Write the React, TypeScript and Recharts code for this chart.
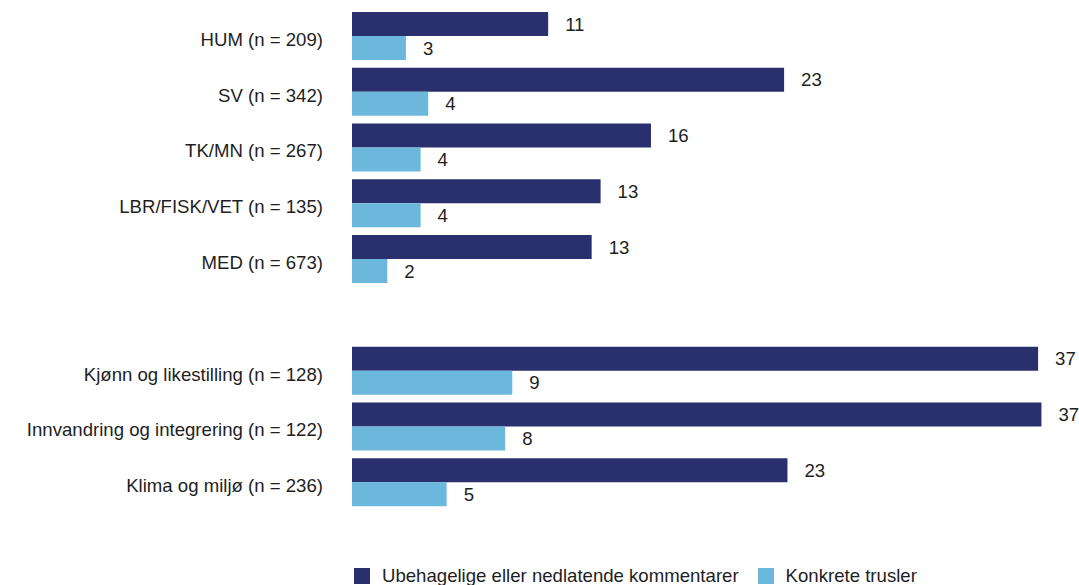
import { Bar, BarChart, LabelList, Legend, XAxis, YAxis } from "recharts";

const categories = [
  "HUM (n = 209)",
  "SV (n = 342)",
  "TK/MN (n = 267)",
  "LBR/FISK/VET (n = 135)",
  "MED (n = 673)",
  "",
  "Kjønn og likestilling (n = 128)",
  "Innvandring og integrering (n = 122)",
  "Klima og miljø (n = 236)",
];

const ubehagelige = [10.55, 23.24, 16.08, 13.37, 12.89, null, 36.9, 37.08, 23.42];
const trusler = [2.9, 4.1, 3.69, 3.69, 1.9, null, 8.62, 8.24, 5.09];

const seriesNames = ["Ubehagelige eller nedlatende kommentarer", "Konkrete trusler"];
const colors = ["#2a2f6e", "#6cb8dc"];

const data = categories.map((name, i) => ({
  name,
  ubehagelige: ubehagelige[i],
  trusler: trusler[i],
}));

const font = "'Liberation Sans', Arial, Helvetica, sans-serif";
const fontSize = 18.6;
const textColor = "#1e1e1e";

function CategoryTick(props: any) {
  const { x, y, payload } = props;
  return (
    <text x={x} y={y} dy={10} textAnchor="end" fill={textColor} fontSize={fontSize} fontFamily={font}>
      {payload.value}
    </text>
  );
}

function LegendContent() {
  return (
    <div
      style={{
        display: "flex",
        alignItems: "center",
        height: 20,
        paddingLeft: 354,
        fontSize,
        lineHeight: "20px",
        color: textColor,
        fontFamily: font,
      }}
    >
      {seriesNames.map((s, i) => (
        <div key={s} style={{ display: "flex", alignItems: "center", marginRight: 19 }}>
          <span style={{ display: "inline-block", width: 16, height: 16, background: colors[i], marginRight: 12 }} />
          <span>{s}</span>
        </div>
      ))}
    </div>
  );
}

export default function App() {
  return (
    <div style={{ position: "absolute", left: 0, top: 0, width: 1079, height: 585, background: "#fff", fontFamily: font }}>
      <BarChart
        width={1079}
        height={585}
        data={data}
        layout="vertical"
        margin={{ top: 8, right: 0, bottom: 55, left: 0 }}
        barSize={24}
        barGap={0}
      >
        <XAxis type="number" hide domain={[0, 39.1]} />
        <YAxis
          type="category"
          dataKey="name"
          width={352}
          axisLine={false}
          tickLine={false}
          tickSize={0}
          tickMargin={29}
          tick={<CategoryTick />}
          interval={0}
        />
        <Legend
          verticalAlign="bottom"
          align="left"
          height={20}
          content={<LegendContent />}
          wrapperStyle={{ left: 0, top: 566 }}
        />
        <Bar dataKey="ubehagelige" name={seriesNames[0]} fill={colors[0]} isAnimationActive={false}>
          <LabelList
            dataKey="ubehagelige"
            position="right"
            offset={17}
            fill={textColor}
            fontSize={fontSize}
            fontFamily={font}
            formatter={(v: any) => (v == null ? "" : Math.round(Number(v)))}
          />
        </Bar>
        <Bar dataKey="trusler" name={seriesNames[1]} fill={colors[1]} isAnimationActive={false}>
          <LabelList
            dataKey="trusler"
            position="right"
            offset={17}
            fill={textColor}
            fontSize={fontSize}
            fontFamily={font}
            formatter={(v: any) => (v == null ? "" : Math.round(Number(v)))}
          />
        </Bar>
      </BarChart>
    </div>
  );
}
